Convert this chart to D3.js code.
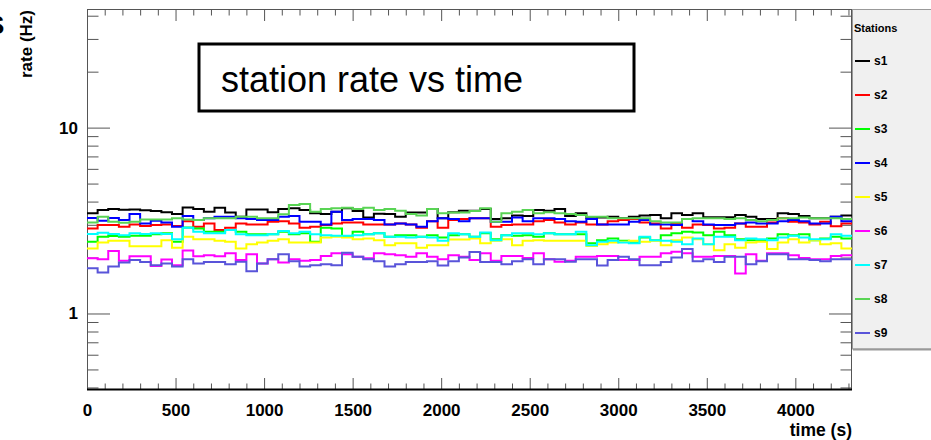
<!DOCTYPE html>
<html><head><meta charset="utf-8">
<script src="https://cdn.jsdelivr.net/npm/d3@7"></script>
<style>
body{margin:0;background:#fff;}
svg{display:block;font-family:'Liberation Sans',Arial,Helvetica,sans-serif;}
</style>
</head><body>
<svg id="chart" width="931" height="440"></svg>
<script>
// ---------- data ----------
const binWidth = 60;          // seconds per bin
const timeMax = 4320;
const stationNames = ["s1","s2","s3","s4","s5","s6","s7","s8","s9"];
const stationColors = ["#000000","#ff0000","#00ff00","#0000ff","#ffff00","#ff00ff","#00ffff","#59d454","#5954d9"];

const s1 = [3.46,3.60,3.65,3.62,3.63,3.59,3.56,3.50,3.43,3.72,3.65,3.53,3.71,3.49,3.32,
            3.63,3.63,3.50,3.65,3.68,3.60,3.46,3.43,3.53,3.68,3.56,3.28,3.44,3.43,
            3.32,3.49,3.49,3.65,3.25,3.50,3.57,3.57,3.65,3.22,3.25,3.37,3.35,3.60,
            3.57,3.65,3.35,3.46,3.25,3.28,3.32,3.25,3.32,3.37,3.39,3.25,3.46,3.39,3.46,
            3.29,3.29,3.29,3.39,3.32,3.22,3.22,3.46,3.43,3.35,3.25,3.25,3.32,3.37];
const s2 = [2.87,2.99,2.99,2.93,3.01,2.96,2.99,3.01,2.96,3.14,2.93,3.05,2.81,2.89,3.05,
            3.01,3.01,3.12,3.14,3.05,2.89,2.93,2.99,3.05,3.09,3.09,3.01,3.01,3.01,
            3.05,3.01,2.89,3.14,2.89,3.18,3.22,3.25,3.25,2.93,2.99,3.01,3.01,3.14,
            3.18,3.09,3.01,3.09,3.01,3.01,3.14,3.18,3.22,3.09,3.05,2.87,3.05,2.89,3.01,
            2.99,2.87,2.89,3.05,2.93,2.93,3.09,3.25,3.12,3.09,3.01,3.12,2.95,3.05];
const s3 = [2.43,2.59,2.61,2.59,2.62,2.62,2.67,2.70,2.43,2.90,2.87,2.75,2.75,2.81,2.75,
            2.67,2.67,2.67,2.75,2.67,2.70,2.43,2.89,2.87,2.59,2.75,2.67,2.70,2.59,
            2.64,2.64,2.59,2.64,2.56,2.64,2.67,2.59,2.70,2.51,2.64,2.62,2.64,2.59,
            2.70,2.67,2.67,2.67,2.39,2.48,2.53,2.46,2.41,2.56,2.48,2.64,2.70,2.75,2.73,
            2.64,2.75,2.64,2.51,2.48,2.48,2.53,2.67,2.64,2.67,2.48,2.53,2.59,2.53];
const s4 = [3.26,3.15,3.26,3.18,3.43,3.05,3.15,3.09,2.93,3.35,3.18,3.25,3.32,3.32,3.25,
            3.22,3.18,3.18,3.32,3.35,3.12,3.12,3.01,3.53,3.18,3.22,3.22,3.18,3.01,
            3.05,3.01,2.93,3.14,3.25,3.22,3.14,3.25,3.25,3.12,3.12,3.28,3.14,3.25,
            3.25,3.22,3.14,3.12,3.22,3.01,3.01,3.01,3.12,3.18,3.01,3.01,2.99,3.22,3.14,
            3.01,2.99,2.99,3.05,3.09,3.05,3.05,3.14,3.18,3.14,3.05,3.05,3.32,3.14];
const s5 = [2.24,2.41,2.46,2.46,2.30,2.30,2.30,2.48,2.26,2.59,2.51,2.51,2.46,2.43,2.24,
            2.36,2.41,2.46,2.51,2.41,2.41,2.41,2.56,2.59,2.56,2.51,2.53,2.48,2.33,
            2.39,2.39,2.26,2.33,2.33,2.50,2.50,2.53,2.39,2.46,2.51,2.33,2.46,2.48,
            2.46,2.46,2.46,2.46,2.31,2.36,2.41,2.43,2.46,2.43,2.46,2.33,2.48,2.56,2.51,
            2.36,2.19,2.36,2.26,2.41,2.43,2.22,2.41,2.51,2.41,2.48,2.36,2.39,2.24];
const s6 = [1.98,1.96,2.17,1.92,2.03,2.03,1.80,1.95,1.82,2.18,2.03,2.06,2.03,2.11,1.94,
            2.08,1.86,1.96,1.88,1.96,1.92,1.94,2.04,2.11,2.08,2.02,1.98,2.11,2.08,
            2.06,2.02,2.11,2.02,1.96,2.06,2.02,1.94,2.11,1.92,2.04,2.04,1.99,2.11,
            1.96,1.90,1.92,2.02,2.02,2.04,2.04,1.94,1.94,2.02,2.02,2.11,2.15,2.11,2.02,
            2.02,2.04,2.04,1.64,2.08,1.92,2.11,2.11,2.06,1.99,1.96,1.96,2.04,2.06];
const s7 = [2.68,2.72,2.68,2.64,2.70,2.68,2.70,2.68,2.51,2.89,2.75,2.70,2.70,2.81,2.67,
            2.64,2.64,2.67,2.78,2.70,2.75,2.67,2.64,2.62,2.62,2.64,2.67,2.70,2.59,
            2.59,2.56,2.59,2.56,2.46,2.70,2.67,2.59,2.73,2.48,2.64,2.70,2.70,2.67,
            2.70,2.67,2.67,2.75,2.33,2.43,2.46,2.41,2.39,2.59,2.48,2.46,2.43,2.36,2.53,
            2.36,2.59,2.59,2.48,2.53,2.51,2.48,2.56,2.62,2.56,2.51,2.51,2.67,2.62];
const s8 = [3.09,3.32,3.12,3.08,3.12,3.20,3.20,3.20,3.25,3.20,3.18,3.25,3.25,3.25,3.32,
            3.32,3.25,3.25,3.42,3.83,3.88,3.53,3.65,3.68,3.71,3.65,3.71,3.60,3.65,
            3.57,3.43,3.37,3.65,3.46,3.49,3.49,3.56,3.68,3.12,3.46,3.53,3.60,3.46,
            3.51,3.46,3.43,3.39,3.32,3.32,3.25,3.25,3.25,3.25,3.14,3.09,3.09,3.22,3.25,
            3.25,3.25,3.22,3.25,3.18,3.14,3.18,3.25,3.25,3.28,3.25,3.25,3.25,3.22];
const s9 = [1.75,1.66,1.79,1.88,1.94,1.89,1.82,1.86,1.79,1.96,1.86,1.89,1.89,1.84,1.90,
            1.69,1.86,1.96,2.08,1.91,1.79,1.82,1.84,1.82,2.12,2.02,1.96,1.91,1.79,
            1.84,1.89,1.89,1.91,1.81,1.91,2.00,2.14,1.89,1.89,1.84,1.91,1.96,1.84,
            1.96,1.96,1.90,1.96,1.96,1.81,1.94,2.02,1.96,1.82,1.82,1.89,2.00,2.22,1.91,
            1.96,1.89,2.02,2.02,1.84,1.91,2.08,2.08,1.96,1.96,1.94,1.91,1.96,1.96];
const stationValues = [s1,s2,s3,s4,s5,s6,s7,s8,s9];

const xMajorTicks = [0,500,1000,1500,2000,2500,3000,3500,4000];
const xMinorTicks = d3.range(0, 4400, 100).filter(v => v % 500 !== 0 && v <= timeMax);
const yMajorTicks = [1,10];
const yMinorTicks = [0.4,0.5,0.6,0.7,0.8,0.9,2,3,4,5,6,7,8,9,20,30,40];
const yDomain = [0.39, 43.2];

const titleText = "station rate vs time";
const xTitle = "time (s)";
const yTitle = "rate (Hz)";
const legendTitle = "Stations";

// ---------- layout ----------
const svg = d3.select("#chart");
const L = 87, R = 852, T = 9.5, B = 389.5;
const x = d3.scaleLinear().domain([0, timeMax]).range([L, R]);
const y = d3.scaleLog().domain(yDomain).range([B, T]);

svg.append("rect").attr("width",931).attr("height",440).attr("fill","#fff");

svg.append("defs").append("clipPath").attr("id","clip")
  .append("rect").attr("x",L).attr("y",T).attr("width",R-L).attr("height",B-T);

// frame
svg.append("rect").attr("x",L+0.5).attr("y",T).attr("width",R-L-1).attr("height",B-T)
  .attr("fill","none").attr("stroke","#555").attr("stroke-width",1);

function styleAxis(g){
  g.select(".domain").remove();
  g.selectAll(".tick line").attr("stroke","#555").attr("stroke-width",1);
  g.selectAll(".tick text").attr("fill","#000").attr("font-weight","bold")
    .attr("font-family","'Liberation Sans',Arial,sans-serif");
}

// bottom axis
svg.append("g").attr("transform",`translate(0,${B})`)
  .call(d3.axisBottom(x).tickValues(xMinorTicks).tickSizeInner(-6).tickSizeOuter(0).tickFormat(""))
  .call(styleAxis);
svg.append("g").attr("transform",`translate(0,${B})`)
  .call(d3.axisBottom(x).tickValues(xMajorTicks).tickSizeInner(-11.5).tickSizeOuter(0).tickPadding(14).tickFormat(d3.format("d")))
  .call(styleAxis)
  .call(g => g.selectAll(".tick text").attr("font-size",17));
// top mirror ticks
svg.append("g").attr("transform",`translate(0,${T})`)
  .call(d3.axisTop(x).tickValues(xMinorTicks).tickSizeInner(-6).tickSizeOuter(0).tickFormat(""))
  .call(styleAxis);
svg.append("g").attr("transform",`translate(0,${T})`)
  .call(d3.axisTop(x).tickValues(xMajorTicks).tickSizeInner(-11.5).tickSizeOuter(0).tickFormat(""))
  .call(styleAxis);

// left axis
svg.append("g").attr("transform",`translate(${L},0)`)
  .call(d3.axisLeft(y).tickValues(yMinorTicks).tickSizeInner(-11.5).tickSizeOuter(0).tickFormat(""))
  .call(styleAxis);
svg.append("g").attr("transform",`translate(${L},0)`)
  .call(d3.axisLeft(y).tickValues(yMajorTicks).tickSizeInner(-23).tickSizeOuter(0).tickPadding(9).tickFormat(d => String(d)))
  .call(styleAxis)
  .call(g => g.selectAll(".tick text").attr("font-size",17));
// right mirror ticks
svg.append("g").attr("transform",`translate(${R},0)`)
  .call(d3.axisRight(y).tickValues(yMinorTicks).tickSizeInner(-11.5).tickSizeOuter(0).tickFormat(""))
  .call(styleAxis);
svg.append("g").attr("transform",`translate(${R},0)`)
  .call(d3.axisRight(y).tickValues(yMajorTicks).tickSizeInner(-23).tickSizeOuter(0).tickFormat(""))
  .call(styleAxis);

// bottom axis line
svg.append("line").attr("x1",L).attr("x2",R).attr("y1",B).attr("y2",B)
  .attr("stroke","#000").attr("stroke-width",2);

// histograms
const line = d3.line().x(d => x(d[0])).y(d => y(d[1])).curve(d3.curveStepAfter);
const plot = svg.append("g").attr("clip-path","url(#clip)");
stationValues.forEach((vals, i) => {
  const pts = vals.map((v, k) => [k * binWidth, v]);
  pts.push([vals.length * binWidth, vals[vals.length - 1]]);
  plot.append("path").datum(pts).attr("d", line)
    .attr("fill","none").attr("stroke", stationColors[i]).attr("stroke-width",2)
    .attr("stroke-linejoin","miter");
});

// axis titles
svg.append("text").attr("x",R).attr("y",436).attr("text-anchor","end")
  .attr("font-size",17.5).attr("font-weight","bold").text(xTitle);
svg.append("text").attr("transform","translate(32,10) rotate(-90)").attr("text-anchor","end")
  .attr("font-size",17).attr("font-weight","bold").text(yTitle);
svg.append("text").attr("x",-13).attr("y",34).attr("font-size",26).attr("font-weight","bold").text("S");

// title box
svg.append("rect").attr("x",199).attr("y",44).attr("width",435).attr("height",67)
  .attr("fill","#fff").attr("stroke","#000").attr("stroke-width",3);
svg.append("text").attr("x",221).attr("y",92).attr("font-size",36).attr("fill","#000").text(titleText);

// legend
const lg = svg.append("g");
lg.append("rect").attr("x",R+0.5).attr("y",T).attr("width",90).attr("height",339.5)
  .attr("fill","#f0f0f0").attr("stroke","#999").attr("stroke-width",1);
lg.append("line").attr("x1",R+1).attr("x2",931).attr("y1",349.5).attr("y2",349.5)
  .attr("stroke","#999").attr("stroke-width",2);
lg.append("text").attr("x",854).attr("y",32).attr("font-size",11).attr("font-weight","bold").text(legendTitle);
const ly = d3.scalePoint().domain(stationNames).range([61, 333]);
stationNames.forEach((n, i) => {
  lg.append("line").attr("x1",855).attr("x2",870).attr("y1",ly(n)).attr("y2",ly(n))
    .attr("stroke",stationColors[i]).attr("stroke-width",2);
  lg.append("text").attr("x",874).attr("y",ly(n)).attr("dy","0.36em")
    .attr("font-size",12).attr("font-weight","bold").text(n);
});
</script>
</body></html>
